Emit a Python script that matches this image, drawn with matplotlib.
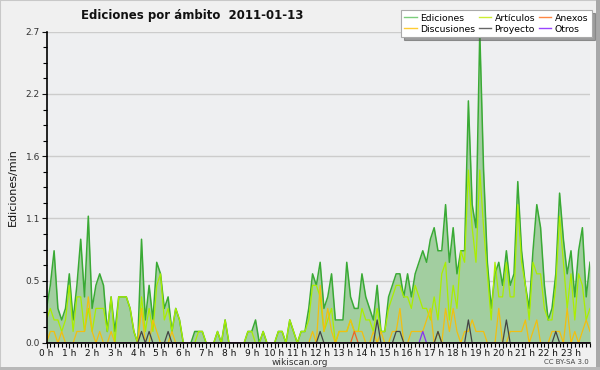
import numpy as np
import matplotlib
matplotlib.use('Agg')
import matplotlib.pyplot as plt
from matplotlib.ticker import MultipleLocator
from matplotlib.patches import Rectangle
from matplotlib.lines import Line2D

hour_labels = [f"{h} h" for h in range(24)]
ytick_values = [0, 0.54, 1.08, 1.62, 2.16, 2.7]
ytick_labels = ["0.0", "0.5", "1.1", "1.6", "2.2", "2.7"]

ediciones = [
    0.3, 0.5, 0.8, 0.3, 0.2, 0.3,
    0.6, 0.2, 0.5, 0.9, 0.4, 1.1,
    0.3, 0.5, 0.6, 0.5, 0.1, 0.4,
    0.1, 0.4, 0.4, 0.4, 0.3, 0.1,
    0.0, 0.9, 0.2, 0.5, 0.2, 0.7,
    0.6, 0.3, 0.4, 0.1, 0.3, 0.2,
    0.0, 0.0, 0.0, 0.1, 0.1, 0.1,
    0.0, 0.0, 0.0, 0.1, 0.0, 0.2,
    0.0, 0.0, 0.0, 0.0, 0.0, 0.1,
    0.1, 0.2, 0.0, 0.1, 0.0, 0.0,
    0.0, 0.1, 0.1, 0.0, 0.2, 0.1,
    0.0, 0.1, 0.1, 0.3, 0.6, 0.5,
    0.7, 0.3, 0.4, 0.6, 0.2, 0.2,
    0.2, 0.7, 0.4, 0.3, 0.3, 0.6,
    0.4, 0.3, 0.2, 0.5, 0.1, 0.1,
    0.4, 0.5, 0.6, 0.6, 0.4, 0.6,
    0.4, 0.6, 0.7, 0.8, 0.7, 0.9,
    1.0, 0.8, 0.8, 1.2, 0.7, 1.0,
    0.6, 0.8, 0.8, 2.1, 1.2, 1.0,
    2.7, 1.5, 0.7, 0.3, 0.6, 0.7,
    0.5, 0.8, 0.5, 0.6, 1.4, 0.8,
    0.5, 0.3, 0.8, 1.2, 1.0, 0.5,
    0.2, 0.3, 0.6, 1.3, 0.9, 0.6,
    0.8, 0.4, 0.8, 1.0, 0.4, 0.7,
]

articulos = [
    0.2, 0.3, 0.2, 0.2, 0.1, 0.2,
    0.5, 0.1, 0.4, 0.4, 0.1, 0.3,
    0.1, 0.3, 0.3, 0.3, 0.1, 0.4,
    0.0, 0.4, 0.4, 0.4, 0.3, 0.1,
    0.0, 0.4, 0.1, 0.3, 0.1, 0.5,
    0.6, 0.2, 0.3, 0.1, 0.3, 0.2,
    0.0, 0.0, 0.0, 0.0, 0.1, 0.1,
    0.0, 0.0, 0.0, 0.1, 0.0, 0.2,
    0.0, 0.0, 0.0, 0.0, 0.0, 0.1,
    0.1, 0.0, 0.0, 0.1, 0.0, 0.0,
    0.0, 0.1, 0.1, 0.0, 0.2, 0.1,
    0.0, 0.1, 0.1, 0.2, 0.5, 0.5,
    0.4, 0.1, 0.2, 0.3, 0.0, 0.1,
    0.1, 0.1, 0.2, 0.1, 0.1, 0.3,
    0.2, 0.2, 0.1, 0.3, 0.1, 0.1,
    0.3, 0.4, 0.5, 0.5, 0.4, 0.4,
    0.3, 0.5, 0.4, 0.3, 0.3, 0.2,
    0.4, 0.2, 0.6, 0.7, 0.2, 0.5,
    0.3, 0.8, 0.7, 1.5, 1.0, 0.7,
    1.5, 1.0, 0.6, 0.2, 0.7, 0.4,
    0.4, 0.7, 0.4, 0.4, 1.2, 0.7,
    0.5, 0.2, 0.7, 0.6, 0.6, 0.3,
    0.2, 0.2, 0.5, 1.1, 0.7, 0.3,
    0.6, 0.2, 0.6, 0.5, 0.2, 0.3,
]

discusiones = [
    0.0, 0.1, 0.1, 0.0, 0.1, 0.0,
    0.0, 0.0, 0.1, 0.1, 0.1, 0.4,
    0.1, 0.0, 0.1, 0.0, 0.0, 0.1,
    0.0, 0.0, 0.0, 0.0, 0.0, 0.0,
    0.0, 0.3, 0.0, 0.0, 0.2, 0.1,
    0.0, 0.0, 0.0, 0.1, 0.0, 0.0,
    0.0, 0.0, 0.0, 0.0, 0.0, 0.0,
    0.0, 0.0, 0.0, 0.0, 0.0, 0.0,
    0.0, 0.0, 0.0, 0.0, 0.0, 0.0,
    0.0, 0.0, 0.0, 0.0, 0.0, 0.0,
    0.0, 0.0, 0.0, 0.0, 0.0, 0.0,
    0.0, 0.0, 0.0, 0.0, 0.1, 0.0,
    0.5, 0.1, 0.3, 0.1, 0.0, 0.1,
    0.1, 0.1, 0.2, 0.1, 0.1, 0.1,
    0.0, 0.0, 0.1, 0.0, 0.1, 0.0,
    0.0, 0.1, 0.1, 0.3, 0.0, 0.0,
    0.1, 0.1, 0.1, 0.1, 0.2, 0.3,
    0.0, 0.1, 0.0, 0.3, 0.1, 0.3,
    0.1, 0.0, 0.1, 0.1, 0.2, 0.1,
    0.1, 0.1, 0.0, 0.0, 0.0, 0.3,
    0.0, 0.0, 0.1, 0.1, 0.1, 0.1,
    0.2, 0.0, 0.1, 0.2, 0.0, 0.0,
    0.0, 0.1, 0.1, 0.1, 0.0, 0.3,
    0.0, 0.1, 0.0, 0.1, 0.2, 0.1,
]

proyecto = [0.0] * 144
for i, v in [(25, 0.1), (27, 0.1), (32, 0.1), (72, 0.1), (87, 0.2), (92, 0.1),
             (93, 0.1), (103, 0.1), (111, 0.2), (121, 0.2), (134, 0.1)]:
    proyecto[i] = v
anexos = [0.0] * 144
anexos[81] = 0.1
otros = [0.0] * 144
otros[99] = 0.1

x = np.arange(len(ediciones))

W, H = 600, 370
plt.rcParams['font.family'] = ['DejaVu Sans']
fig = plt.figure(figsize=(W / 100, H / 100), dpi=100, facecolor='#f0f0f0')

# frame of the picture
fig.patches.append(Rectangle((0, 0), 1, 1, transform=fig.transFigure, fill=False,
                             edgecolor='#c8c8c8', lw=1.5, zorder=0))
fig.patches.append(Rectangle((1 - 4 / W, 0), 4 / W, 1, transform=fig.transFigure,
                             facecolor='#a8a8a8', edgecolor='none', zorder=0))
fig.patches.append(Rectangle((0, 0), 1, 3 / H, transform=fig.transFigure,
                             facecolor='#b8b8b8', edgecolor='none', zorder=0))

L, R, T, B = 46.5, 590, 31.7, 343
ax = fig.add_axes([L / W, 1 - B / H, (R - L) / W, (B - T) / H])
ax.set_facecolor('#eeeff1')
ax.set_xlim(0, len(ediciones) - 1)
ax.set_ylim(0, 2.7)

ax.fill_between(x, ediciones, 0, color='#a2cea0', lw=0, zorder=2)
ax.plot(x, ediciones, color='#3aaa35', lw=1.1, zorder=3)
ax.plot(x, articulos, color='#aaee00', lw=0.9, zorder=4)
ax.plot(x, discusiones, color='#f2bf10', lw=0.9, zorder=5)
ax.plot(x, proyecto, color='#444444', lw=0.9, zorder=6)
ax.plot(x, anexos, color='#ee6622', lw=0.9, zorder=6)
ax.plot(x, otros, color='#8833ee', lw=0.9, zorder=6)

ax.set_yticks(ytick_values)
ax.set_yticklabels(ytick_labels)
ax.yaxis.set_minor_locator(MultipleLocator(0.135))
ax.set_xticks(np.arange(0, 144, 6))
ax.set_xticklabels(hour_labels)
ax.xaxis.set_minor_locator(MultipleLocator(1))
ax.tick_params(axis='both', which='major', direction='out', length=3.5, width=0.8,
               labelsize=6.5, colors='#111111', pad=0.8)
ax.tick_params(axis='both', which='minor', direction='out', length=3, width=0.8)
ax.tick_params(axis='y', labelcolor='#333333', pad=1.2)
ax.grid(axis='y', color='#cccccc', lw=1, zorder=1)
ax.set_axisbelow(True)
for s in ['top', 'right']:
    ax.spines[s].set_visible(False)
for s in ['left', 'bottom']:
    ax.spines[s].set_linewidth(1.2)
    ax.spines[s].set_color('#000000')
    ax.spines[s].set_zorder(7)

fig.text(192 / W, 1 - 15 / H, 'Ediciones por ámbito  2011-01-13', ha='center', va='center',
         fontsize=8.5, fontweight='bold', color='#111111')
fig.text(13 / W, 1 - 187 / H, 'Ediciones/min', rotation=90, ha='center', va='center',
         fontsize=8, color='#111111')
fig.text(300 / W, 1 - 362.5 / H, 'wikiscan.org', ha='center', va='center',
         fontsize=6.5, color='#333333')
fig.text(589 / W, 1 - 362.5 / H, 'CC BY-SA 3.0', ha='right', va='center',
         fontsize=5, color='#444444')

# legend
handles = [Line2D([], [], color='#7ccd7c', lw=1), Line2D([], [], color='#ffcc33', lw=1),
           Line2D([], [], color='#ccee33', lw=1), Line2D([], [], color='#666666', lw=1),
           Line2D([], [], color='#ff8844', lw=1), Line2D([], [], color='#9944ff', lw=1)]
names = ['Ediciones', 'Discusiones', 'Artículos', 'Proyecto', 'Anexos', 'Otros']
leg = fig.legend(handles, names, loc='upper right', bbox_to_anchor=(592 / W, 1 - 10 / H),
                 ncol=3, fontsize=6.7, frameon=True, fancybox=False, shadow=True,
                 framealpha=1, edgecolor='#aaaaaa', handlelength=1.3, handletextpad=0.35,
                 columnspacing=0.45, labelspacing=0.2, borderpad=0.4, borderaxespad=0)
leg.get_frame().set_linewidth(0.8)
leg.set_zorder(10)

fig.savefig('out.png', dpi=100, facecolor=fig.get_facecolor())
